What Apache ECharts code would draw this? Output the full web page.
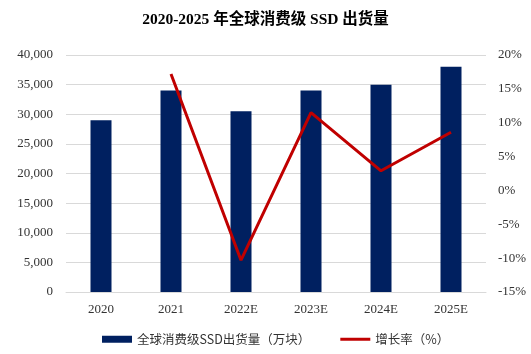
<!DOCTYPE html>
<html>
<head>
<meta charset="utf-8">
<script src="https://cdn.jsdelivr.net/npm/echarts@6/dist/echarts.min.js"></script>
<style>html,body{margin:0;padding:0;background:#fff}#c{width:531px;height:354px}</style>
</head>
<body>
<div id="c"></div>
<script>
const categories = ['2020', '2021', '2022E', '2023E', '2024E', '2025E'];
const shipments = [29000, 34000, 30500, 34000, 35000, 38000];
const growth = [null, 17.2, -10.3, 11.5, 2.9, 8.6];
const leftTicks = { min: 0, max: 40000, interval: 5000 };
const rightTicks = { min: -15, max: 20, interval: 5 };

const serif = '"Liberation Serif", "Times New Roman", "Noto Sans CJK SC", serif';
const chart = echarts.init(document.getElementById('c'));
chart.setOption({
  animation: false,
  title: {
    text: '2020-2025 年全球消费级 SSD 出货量',
    left: 'center', top: 7,
    textStyle: { fontFamily: serif, fontSize: 15.5, fontWeight: 'bold', color: '#000' }
  },
  grid: { left: 66, right: 45, top: 55, bottom: 62 },
  legend: {
    top: 328, left: 97, itemGap: 30, itemWidth: 30, itemHeight: 7,
    textStyle: { fontFamily: '"Noto Sans CJK SC", sans-serif', fontSize: 12.5, color: '#333' },
    data: [
      { name: '全球消费级SSD出货量（万块）', icon: 'rect' },
      { name: '增长率（%）', icon: 'path://M0,0H30V3H0Z', itemStyle: { color: '#c00000' } }
    ]
  },
  xAxis: {
    type: 'category', data: categories,
    axisLine: { lineStyle: { color: '#d9d9d9' } },
    axisTick: { show: false },
    axisLabel: { fontFamily: serif, fontSize: 13, color: '#333', margin: 11 }
  },
  yAxis: [
    {
      type: 'value', min: leftTicks.min, max: leftTicks.max, interval: leftTicks.interval,
      axisLine: { show: false }, axisTick: { show: false },
      splitLine: { lineStyle: { color: '#d9d9d9' } },
      axisLabel: {
        fontFamily: serif, fontSize: 13, color: '#333', margin: 13,
        formatter: v => v.toLocaleString('en-US')
      }
    },
    {
      type: 'value', min: rightTicks.min, max: rightTicks.max, interval: rightTicks.interval,
      axisLine: { show: false }, axisTick: { show: false }, splitLine: { show: false },
      axisLabel: { fontFamily: serif, fontSize: 13, color: '#333', margin: 12, formatter: '{value}%' }
    }
  ],
  series: [
    {
      name: '全球消费级SSD出货量（万块）', type: 'bar', data: shipments,
      barWidth: '30%', itemStyle: { color: '#002060' }
    },
    {
      name: '增长率（%）', type: 'line', yAxisIndex: 1, data: growth,
      symbol: 'none', lineStyle: { color: '#c00000', width: 3 }, itemStyle: { color: '#c00000' }
    }
  ]
});
</script>
</body>
</html>
